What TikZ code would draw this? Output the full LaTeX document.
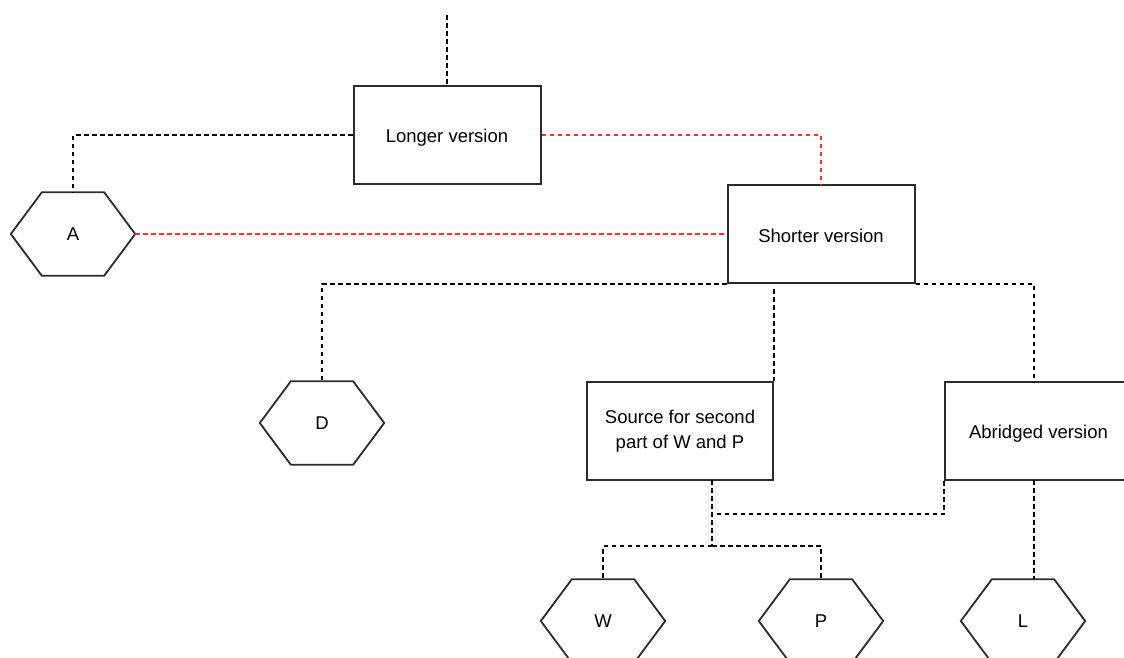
\documentclass[tikz,border=0pt]{standalone}
\usepackage{fontspec}
\setmainfont{Liberation Sans}
\usetikzlibrary{calc}
\definecolor{edgegray}{HTML}{2B2B2B}
\definecolor{redline}{HTML}{FF2E2E}
\tikzset{
  box/.style={draw=edgegray, line width=2pt, fill=white, minimum width=187pt, minimum height=98pt, inner sep=0pt, align=center, font=\fontsize{18.5}{25.5}\selectfont, execute at begin node={\rule{0pt}{18pt}}},
  hexnode/.style={minimum width=124pt, minimum height=83pt, inner sep=0pt, font=\fontsize{18.5}{25}\selectfont},
  hexline/.style={draw=edgegray, line width=1.8pt, line join=miter},
  conn/.style={draw=black, line width=1.7pt, dash pattern=on 4.5pt off 3.5pt},
  redconn/.style={draw=redline, line width=1.7pt, dash pattern=on 4.5pt off 3.5pt},
}
\begin{document}
\begin{tikzpicture}[x=1pt,y=-1pt]
\useasboundingbox (0,0) rectangle (1124,657);
\clip (0,0) rectangle (1124,657);

% coordinates for connector junctions
\coordinate (top) at (447,15);
\coordinate (abT) at (1034,382);
\coordinate (abB) at (1034,480);
\coordinate (sB) at (712,480);
\coordinate (j1) at (712,514);
\coordinate (j2) at (712,546);

% nodes
\node[box] (Longer) at (447,135) {Longer version};
\node[box] (Shorter) at (821,234) {Shorter version};
\node[box, minimum width=186pt] (Source) at (680,431) {Source for second\\part of W and P};
\node[box] (Abridged) at (1038.5,431) {Abridged version};

\node[hexnode] (A) at (73,234) {A};
\node[hexnode] (D) at (322,423) {D};
\node[hexnode] (W) at (603,621) {W};
\node[hexnode] (P) at (821,621) {P};
\node[hexnode] (L) at (1023,621) {L};

\foreach \h in {A,D,W,P,L}{
  \draw[hexline] ([xshift=31pt]\h.north west) -- ([xshift=-31pt]\h.north east) -- (\h.east)
    -- ([xshift=-31pt]\h.south east) -- ([xshift=31pt]\h.south west) -- (\h.west) -- cycle;
}

% connectors
\draw[conn] (top) -- (Longer.north);
\draw[conn] (Longer.west) -| (A.north);
\draw[redconn] (Longer.east) -| (Shorter.north);
\draw[redconn] (A.east) -- (Shorter.west);
\draw[conn] (Shorter.south west) -| (D.north);
\draw[conn] (Shorter.south east) -| (abT);
\draw[conn] ([yshift=-5pt]Shorter.south -| Source.north east) -- (Source.north east);
\draw[conn] (sB) -- (j2);
\draw[conn] (Abridged.south west) |- (j1);
\draw[conn] (j2) -| (W.north);
\draw[conn] (j2) -| (P.north);
\draw[conn] (abB) -- (abB |- L.north);
\end{tikzpicture}
\end{document}
